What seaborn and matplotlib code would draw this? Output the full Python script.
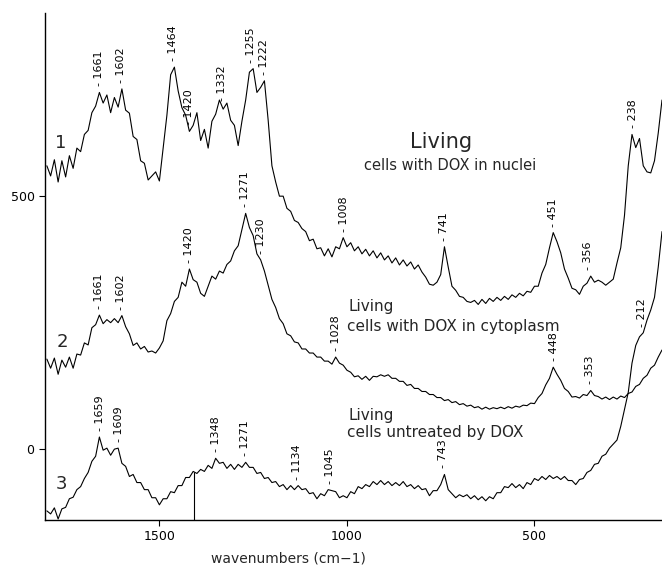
import numpy as np
import pandas as pd
import matplotlib
matplotlib.use("Agg")
import matplotlib.pyplot as plt
import seaborn as sns

# ---------------- data ----------------
wavenumbers = list(range(1800, 150, -10))   # 1800 ... 160 cm-1, sampling axis

nuclei = [
    560, 540, 572, 528, 570, 538, 580, 555, 595, 588,
    622, 630, 665, 678, 705, 684, 700, 665, 695, 676,
    712, 670, 664, 618, 612, 570, 565, 532, 540, 548,
    530, 595, 660, 740, 755, 708, 675, 660, 628, 640,
    665, 610, 632, 595, 648, 662, 690, 672, 684, 650,
    640, 600, 648, 690, 745, 752, 705, 715, 728, 650,
    560, 528, 500, 500, 476, 470, 452, 448, 436, 430,
    412, 415, 396, 398, 382, 396, 380, 400, 396, 418,
    400, 408, 392, 400, 386, 395, 382, 392, 378, 388,
    374, 382, 368, 378, 364, 374, 362, 370, 356, 364,
    350, 340, 326, 324, 330, 345, 400, 360, 322, 314,
    302, 300, 292, 290, 294, 286, 296, 288, 298, 292,
    300, 294, 302, 296, 305, 300, 308, 303, 312, 310,
    322, 322, 348, 365, 398, 428, 410, 388, 356, 338,
    318, 315, 306, 322, 328, 342, 330, 334, 330, 324,
    330, 336, 368, 398, 462, 560, 622, 596, 614, 560,
    548, 546, 570, 625, 690,
]

cytoplasm = [
    178, 160, 180, 148, 176, 162, 182, 160, 188, 186,
    210, 206, 240, 246, 265, 248, 256, 250, 258, 250,
    264, 242, 228, 205, 210, 198, 203, 192, 194, 190,
    200, 214, 254, 268, 292, 300, 330, 322, 356, 335,
    330, 308, 302, 322, 342, 336, 352, 348, 365, 372,
    392, 402, 434, 466, 438, 422, 386, 374, 352, 324,
    296, 280, 258, 248, 228, 224, 212, 210, 198, 198,
    190, 190, 182, 182, 174, 174, 168, 182, 170, 166,
    156, 152, 143, 145, 138, 144, 136, 144, 143, 147,
    144, 147, 140, 140, 134, 134, 126, 128, 120, 120,
    114, 114, 108, 108, 102, 102, 96, 98, 92, 94,
    88, 90, 85, 87, 82, 84, 79, 83, 79, 82,
    80, 83, 80, 84, 81, 85, 83, 87, 86, 91,
    90, 102, 110, 127, 140, 162, 148, 136, 120, 114,
    103, 104, 101, 108, 106, 116, 106, 104, 99, 103,
    98, 103, 99, 105, 102, 110, 113, 124, 128, 140,
    146, 160, 166, 182, 196,
]

untreated = [
    -122, -128, -116, -138, -118, -115, -98, -95, -80, -74,
    -58, -46, -24, -14, 24, -2, 2, -12, 0, 2,
    -28, -34, -54, -50, -66, -66, -80, -80, -96, -96,
    -110, -98, -98, -84, -86, -72, -72, -56, -56, -44,
    -48, -40, -44, -32, -38, -18, -28, -26, -38, -30,
    -40, -30, -36, -26, -36, -36, -48, -46, -58, -56,
    -66, -64, -74, -70, -80, -72, -80, -72, -80, -78,
    -88, -86, -98, -88, -92, -80, -82, -84, -96, -92,
    -96, -84, -88, -74, -78, -70, -74, -64, -70, -62,
    -70, -64, -72, -66, -72, -64, -74, -70, -78, -72,
    -80, -78, -92, -82, -82, -70, -50, -80, -88, -96,
    -90, -94, -90, -98, -92, -100, -94, -102, -94, -98,
    -86, -86, -74, -76, -68, -76, -70, -78, -66, -70,
    -58, -62, -54, -60, -52, -58, -54, -60, -54, -62,
    -62, -70, -60, -58, -46, -42, -30, -28, -14, -10,
    2, 10, 18, 45, 78, 112, 170, 205, 222, 230,
    255, 275, 300, 360, 430,
]

peaks_nuclei = [1661, 1602, 1464, 1420, 1332, 1255, 1222, 1008, 741, 451, 356, 238]
peaks_cytoplasm = [1661, 1602, 1420, 1271, 1230, 1028, 448, 353]
peaks_untreated = [1659, 1609, 1348, 1271, 1134, 1045, 743, 212]

artifact_x = [1408]

yticks = [0, 500]
xticks = [1500, 1000, 500]

# ---------------- figure ----------------
sns.set_style("white")
plt.rcParams['font.family'] = ['DejaVu Sans']

W, H = 662, 572
fig = plt.figure(figsize=(W / 100, H / 100), dpi=100)
ax = fig.add_axes([45 / W, 52 / H, 617 / W, 507 / H])

df = pd.DataFrame({
    "w": wavenumbers * 3,
    "v": nuclei + cytoplasm + untreated,
    "s": ["nuclei"] * len(wavenumbers) + ["cyto"] * len(wavenumbers) + ["untr"] * len(wavenumbers),
})
sns.lineplot(data=df, x="w", y="v", units="s", estimator=None, sort=False,
             color="black", lw=0.8, ax=ax)

ax.set_xlim(1805, 160)
ax.set_ylim(-140, 862)

wv = np.array(wavenumbers)[::-1]
def curve_at(series, w, win=6):
    arr = np.array(series)[::-1]
    sel = (wv >= w - win) & (wv <= w + win)
    vals = [np.interp(w, wv, arr)]
    if sel.any():
        vals.append(arr[sel].max())
    return max(vals)

for series, peaks in [(nuclei, peaks_nuclei), (cytoplasm, peaks_cytoplasm),
                      (untreated, peaks_untreated)]:
    for p in peaks:
        y = curve_at(series, p) + 12
        ax.text(p, y, "- " + str(p), rotation=90, ha="center", va="bottom",
                fontsize=8, color="black")

# vertical artifact line down to axis
for xa in artifact_x:
    ytop = np.interp(xa, wv, np.array(untreated)[::-1])
    ax.vlines(xa, -140, ytop, color="black", lw=0.8)

# curve numbers
ax.text(1762, 605, "1", fontsize=13, ha="center", va="center")
ax.text(1760, 211, "2", fontsize=13, ha="center", va="center")
ax.text(1760, -69, "3", fontsize=13, ha="center", va="center")

# annotations
ax.text(749, 607, "Living", fontsize=15, ha="center", va="center")
ax.text(725, 561, "cells with DOX in nuclei", fontsize=10.5, ha="center", va="center")
ax.text(997, 281, "Living", fontsize=11, ha="left", va="center")
ax.text(1000, 243, "cells with DOX in cytoplasm", fontsize=11, ha="left", va="center")
ax.text(997, 67, "Living", fontsize=11, ha="left", va="center")
ax.text(1000, 32, "cells untreated by DOX", fontsize=11, ha="left", va="center")

# axes styling
for s in ["top", "right"]:
    ax.spines[s].set_visible(False)
for s in ["left", "bottom"]:
    ax.spines[s].set_color("black")
    ax.spines[s].set_linewidth(1.0)
ax.set_xticks(xticks)
ax.set_yticks(yticks)
ax.tick_params(axis="both", direction="out", length=4, width=0.8,
               labelsize=9, colors="black", bottom=True, left=True)
ax.set_ylabel("")
ax.set_xlabel("wavenumbers (cm\u22121)", fontsize=10)
ax.xaxis.set_label_coords((288 - 45) / 617, -0.063)

fig.savefig("out.png", dpi=100)
